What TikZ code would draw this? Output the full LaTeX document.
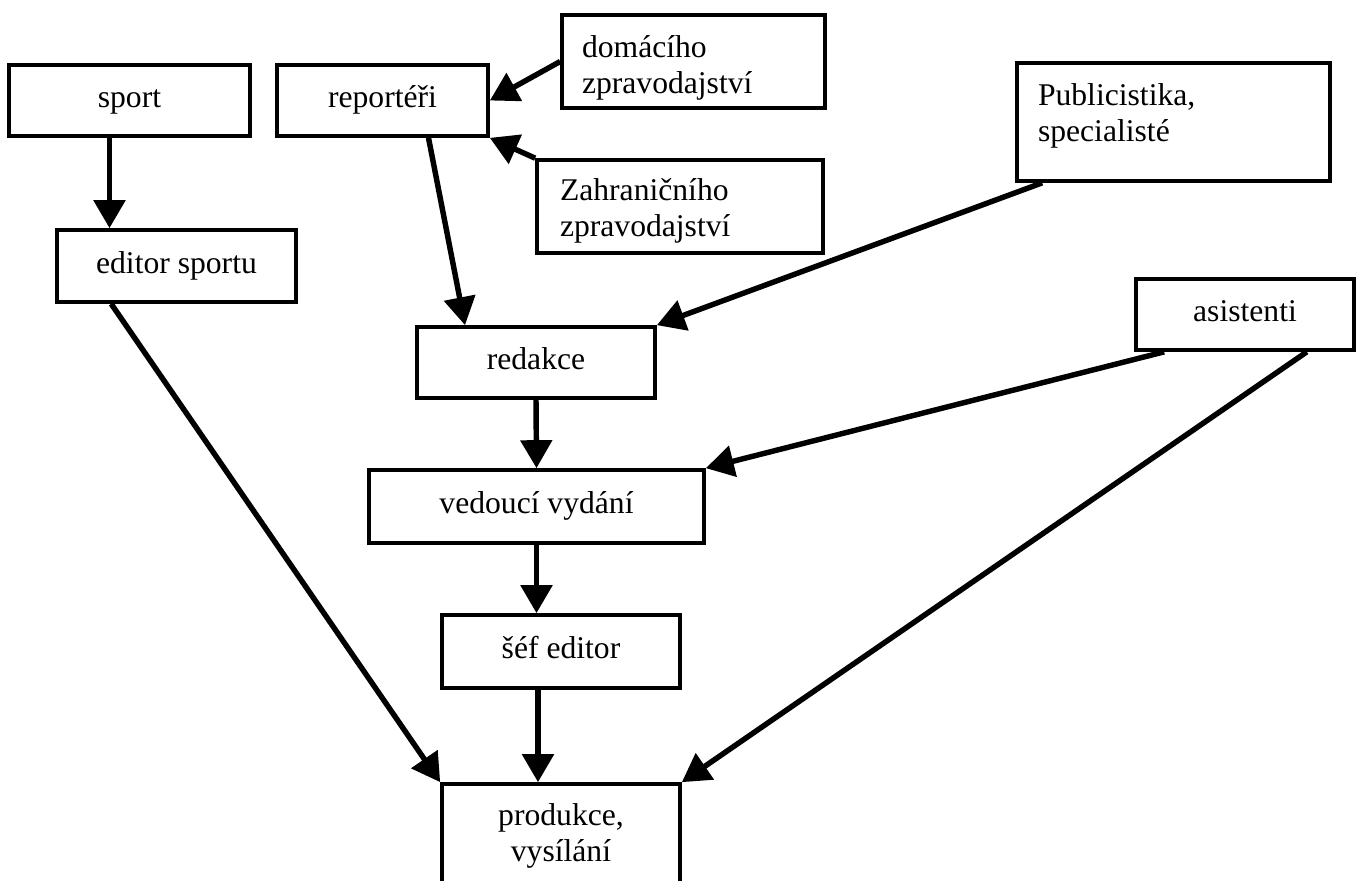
\documentclass[tikz,border=0pt]{standalone}
\usepackage{fontspec}
\setmainfont{Liberation Serif}
\usetikzlibrary{arrows.meta,calc}

\begin{document}
\begin{tikzpicture}[x=0.02cm,y=-0.02cm,
	box/.style={draw,line width=2.1pt,inner sep=0pt,font=\fontsize{18}{20.5}\selectfont},
	one/.style={box,text height=12.6pt,text depth=4.5pt,minimum height=1.42cm},
	two/.style={box,align=left,minimum height=1.86cm},
	arr/.style={->,>={Triangle[length=0.56cm,width=0.62cm]},line width=3.1pt}]
		\useasboundingbox (0,0) rectangle (1362,880);
		\clip (0,0) rectangle (1362,880);
		\node[one,minimum width=4.82cm] (sport) at (129.5,100.5) {sport};
		\node[one,minimum width=4.22cm] (reporteri) at (382.5,100.5) {reportéři};
		\node[two,minimum width=5.26cm,text width=4.46cm,text depth=17.3pt] (domaci) at (693.5,61.5) {domácího\\zpravodajství};
		\node[two,minimum width=5.72cm,text width=4.8cm,text depth=19.6pt] (zahranici) at (680,206.5) {Zahraničního\\zpravodajství};
		\node[two,minimum width=6.26cm,minimum height=2.36cm,text width=5.42cm,text depth=31.5pt] (publ) at (1173.5,122) {Publicistika,\\specialisté};
		\node[one,minimum width=4.78cm,minimum height=1.44cm] (edsport) at (176.5,266) {editor sportu};
		\node[one,minimum width=4.76cm] (redakce) at (536,362.5) {redakce};
		\node[one,minimum width=4.36cm] (asist) at (1245,314.5) {asistenti};
		\node[one,minimum width=6.7cm,minimum height=1.46cm] (vedouci) at (536.5,506.5) {vedoucí vydání};
		\node[one,minimum width=4.76cm,minimum height=1.46cm] (sef) at (561,651.5) {šéf editor};
		\node[box,minimum width=4.76cm,minimum height=2.08cm,align=center] (produkce) at (561,836) {produkce,\\vysílání};
		\draw[arr] ($(sport.south)+(-20,0)$) -- ($(edsport.north)+(-67,0)$);
		\draw[arr] ($(reporteri.south)+(46,0)$) -- ($(redakce.north)+(-71,0)$);
		\draw[arr] (domaci.west) -- (reporteri.east);
		\draw[arr] (zahranici.north west) -- (reporteri.south east);
		\draw[arr] ($(publ.south west)+(27,0)$) -- (redakce.north east);
		\draw[arr] ($(asist.south west)+(30,0)$) -- (vedouci.north east);
		\draw[arr] ($(asist.south east)+(-49,0)$) -- (produkce.north east);
		\draw[arr] (redakce.south) -- (vedouci.north);
		\draw[arr] (vedouci.south) -- (vedouci.south |- sef.north);
		\draw[arr] ($(sef.south)+(-23,0)$) -- ($(produkce.north)+(-23,0)$);
		\draw[arr] ($(edsport.south west)+(56,0)$) -- (produkce.north west);
\end{tikzpicture}
\end{document}
